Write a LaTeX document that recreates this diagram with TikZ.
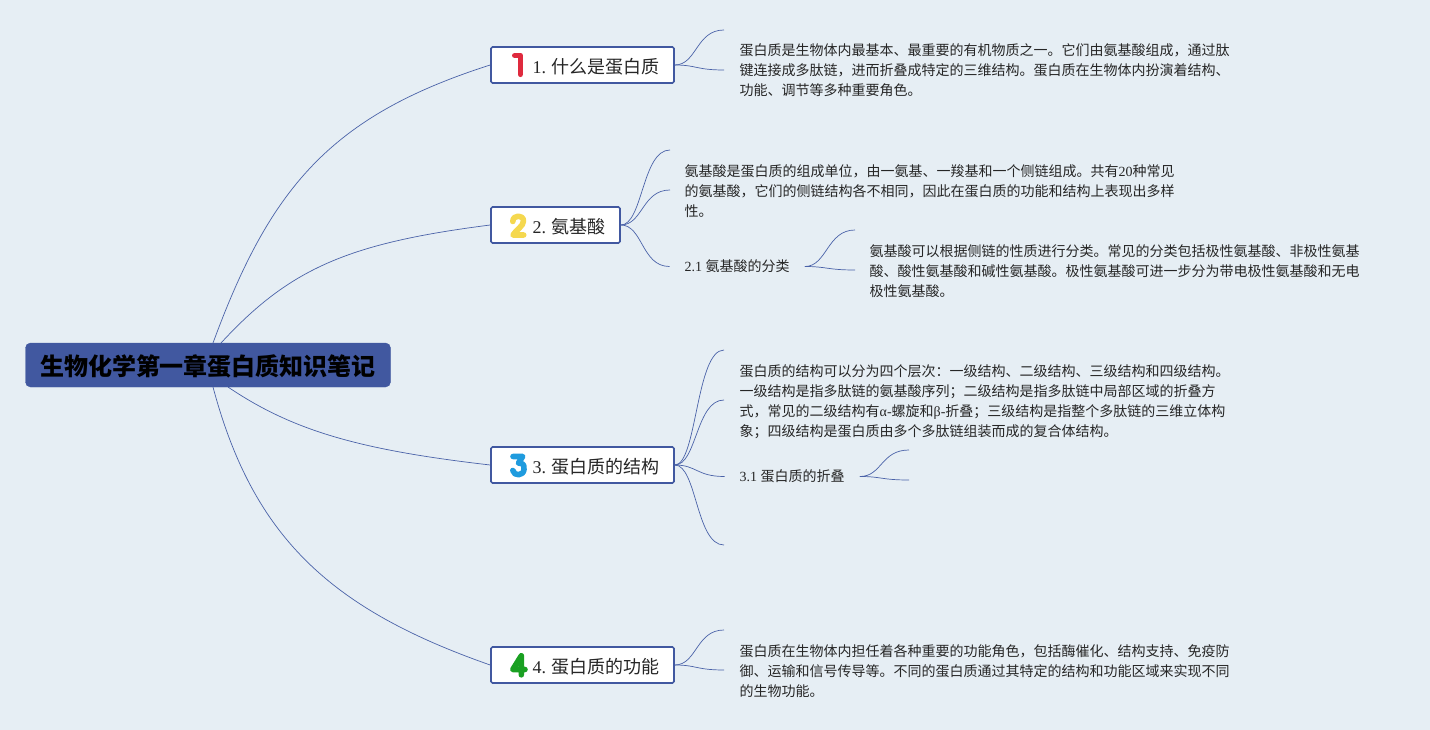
\documentclass[tikz,border=0pt]{standalone}
\usepackage{fontspec}
\setmainfont{Noto Sans CJK SC}
\newfontfamily\latf{Liberation Serif}
\newcommand{\lat}[1]{{\latf #1}}
\newcommand{\gap}{\hspace{5pt}}
\definecolor{bgc}{HTML}{E6EEF4}
\definecolor{rootc}{HTML}{4158A0}
\definecolor{linec}{HTML}{4A62A8}
\definecolor{icr}{HTML}{DF2A3E}
\definecolor{icy}{HTML}{F5D84F}
\definecolor{icb}{HTML}{1F9BDE}
\definecolor{icg}{HTML}{1AA022}
\tikzset{
  rootbox/.style={fill=rootc,draw=rootc,rounded corners=5pt,minimum width=365pt,minimum height=44pt,inner sep=0pt,text height=21.5pt,text depth=0pt,font=\fontsize{24}{30}\selectfont\bfseries,text=black},
  branchbox/.style={fill=white,draw=rootc,line width=1.6pt,rounded corners=1.5pt,minimum height=36pt,inner xsep=15pt,inner ysep=0pt,text height=16.6pt,text depth=0pt,align=right,font=\fontsize{18}{22}\selectfont,text=black!85},
  iconstroke/.style={line width=5.6pt,line cap=round,line join=round},
  para/.style={inner sep=0pt,anchor=west,align=left,font=\fontsize{14}{20}\selectfont,text=black!85},
  sublabel/.style={inner ysep=0pt,inner xsep=15pt,anchor=west,font=\fontsize{14}{20}\selectfont,text=black!85},
  conn/.style={draw=linec,line width=0.7pt},
  kid/.style={to path={.. controls +(22,0) and +(-28,0) .. (\tikztotarget)}}
}
\begin{document}
\begin{tikzpicture}[x=1pt,y=-1pt]
\fill[bgc] (0,0) rectangle (1430,730);
\useasboundingbox (0,0) rectangle (1430,730);

\coordinate (r1) at (213,343);
\coordinate (r2) at (221,343);
\coordinate (r3) at (228,387);
\coordinate (r4) at (213,387);

\node[branchbox,minimum width=183pt,text width=153pt] (b1) at (582.5,65) {\lat{1.}\gap 什么是蛋白质};
\node[branchbox,minimum width=129pt,text width=99pt] (b2) at (555.5,225) {\lat{2.}\gap 氨基酸};
\node[branchbox,minimum width=183pt,text width=153pt] (b3) at (582.5,465) {\lat{3.}\gap 蛋白质的结构};
\node[branchbox,minimum width=183pt,text width=153pt] (b4) at (582.5,665) {\lat{4.}\gap 蛋白质的功能};

\draw[iconstroke,icr] (514.8,55.5) -- (520.3,55.5) -- (520.3,74.3);
\draw[iconstroke,icy] (512.8,221.5) .. controls (512.8,214.5) and (523.5,214.5) .. (523.5,221) .. controls (523.5,226) and (516,230) .. (513,235) -- (523.7,235);
\draw[iconstroke,icb] (513,456.5) -- (522.7,456.5) -- (518.5,463) .. controls (524.5,463) and (524.5,467) .. (524,469.5) .. controls (523.5,476) and (514,476.5) .. (512.8,470.5);
\draw[iconstroke,icg] (521.3,674.8) -- (521.3,655.8) -- (512.8,669.5) -- (525,669.5);

\node[para] (p1) at (739.5,70.4) {蛋白质是生物体内最基本、最重要的有机物质之一。它们由氨基酸组成，通过肽\\键连接成多肽链，进而折叠成特定的三维结构。蛋白质在生物体内扮演着结构、\\功能、调节等多种重要角色。};
\node[para] (p2) at (684.5,191.4) {氨基酸是蛋白质的组成单位，由一氨基、一羧基和一个侧链组成。共有\lat{20}种常见\\的氨基酸，它们的侧链结构各不相同，因此在蛋白质的功能和结构上表现出多样\\性。};
\node[sublabel] (s21) at (669.5,266.5) {\lat{2.1 }氨基酸的分类};
\node[para] (p21) at (869.5,271.4) {氨基酸可以根据侧链的性质进行分类。常见的分类包括极性氨基酸、非极性氨基\\酸、酸性氨基酸和碱性氨基酸。极性氨基酸可进一步分为带电极性氨基酸和无电\\极性氨基酸。};
\node[para] (p3) at (739.5,401.4) {蛋白质的结构可以分为四个层次：一级结构、二级结构、三级结构和四级结构。\\一级结构是指多肽链的氨基酸序列；二级结构是指多肽链中局部区域的折叠方\\式，常见的二级结构有\lat{α-}螺旋和\lat{β-}折叠；三级结构是指整个多肽链的三维立体构\\象；四级结构是蛋白质由多个多肽链组装而成的复合体结构。};
\node[sublabel] (s31) at (724.5,476.5) {\lat{3.1 }蛋白质的折叠};
\node[para] (p4) at (739.5,671.4) {蛋白质在生物体内担任着各种重要的功能角色，包括酶催化、结构支持、免疫防\\御、运输和信号传导等。不同的蛋白质通过其特定的结构和功能区域来实现不同\\的生物功能。};

\coordinate (e1a) at (724,30);
\coordinate (e1b) at (724,70);
\coordinate (e2a) at (670,150);
\coordinate (e2b) at (670,190);
\coordinate (e21a) at (855,230);
\coordinate (e21b) at (855,270);
\coordinate (e3a) at (724,350);
\coordinate (e3b) at (724,400);
\coordinate (e3d) at (724,545);
\coordinate (e31a) at (909,450);
\coordinate (e31b) at (909,480);
\coordinate (e4a) at (724,630);
\coordinate (e4b) at (724,670);

\draw[conn] (r1) .. controls +(57,-155) and +(-160,51) .. (b1.west);
\draw[conn] (r2) .. controls +(69,-75) and +(-141,18) .. (b2.west);
\draw[conn] (r3) .. controls +(65,44) and +(-130,-15) .. (b3.west);
\draw[conn] (r4) .. controls +(40,150) and +(-160,-56) .. (b4.west);
\foreach \a/\b in {b1/e1a,b1/e1b,b2/e2a,b2/e2b,b3/e3a,b3/e3b,b3/e3d,b4/e4a,b4/e4b}{
  \draw[conn] (\a.east) to[kid] (\b);
}
\draw[conn] (b2.east) to[kid] (s21.west);
\draw[conn] (b3.east) to[kid] (s31.west);
\draw[conn] (s21.east) to[kid] (e21a);
\draw[conn] (s21.east) to[kid] (e21b);
\draw[conn] (s31.east) to[kid] (e31a);
\draw[conn] (s31.east) to[kid] (e31b);

\node[rootbox] (root) at (208,365) {生物化学第一章蛋白质知识笔记};
\end{tikzpicture}
\end{document}
